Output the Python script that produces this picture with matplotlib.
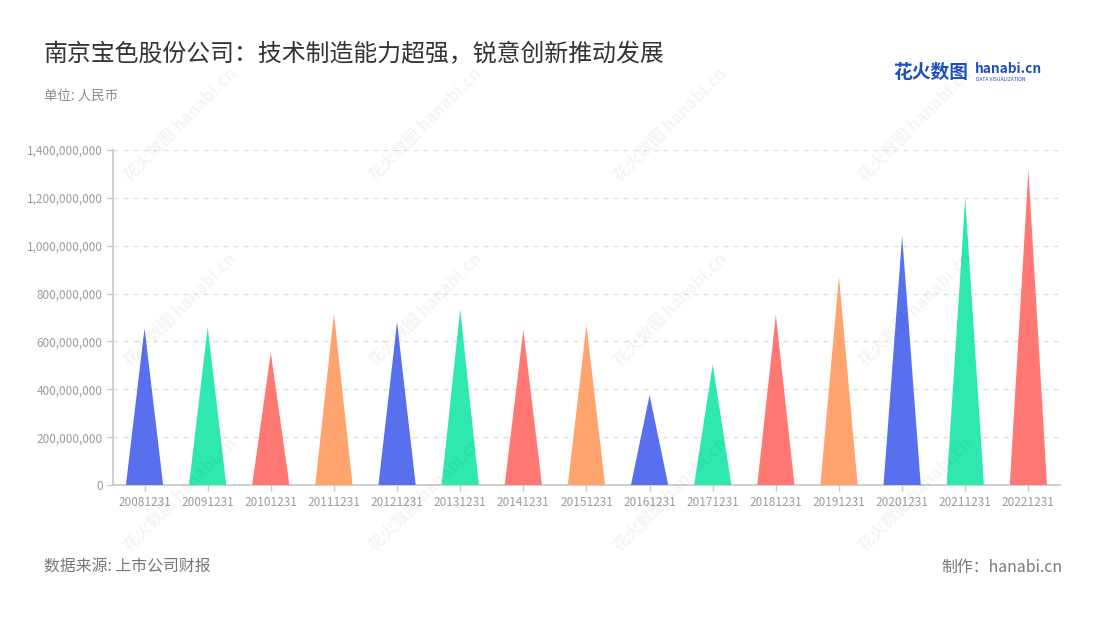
import matplotlib.pyplot as plt
from matplotlib.ticker import FuncFormatter

plt.rcParams['font.family'] = ['Noto Sans CJK SC', 'DejaVu Sans']

# 数据（单位：人民币）
periods = ['20081231', '20091231', '20101231', '20111231', '20121231',
           '20131231', '20141231', '20151231', '20161231', '20171231',
           '20181231', '20191231', '20201231', '20211231', '20221231']
values = [655e6, 659e6, 553e6, 717e6, 681e6,
          735e6, 648e6, 668e6, 376e6, 504e6,
          711e6, 870e6, 1041e6, 1198e6, 1316e6]
palette = ['#5870EE', '#2EE8B0', '#FF7873', '#FFA36F']

fig = plt.figure(figsize=(11, 6.2), dpi=100)
ax = fig.add_axes([0.1027, 0.2177, 0.8609, 0.5403])

half = 0.295
for i, v in enumerate(values):
    ax.fill([i - half, i, i + half], [0, v, 0], color=palette[i % 4], lw=0, zorder=3)

ax.set_xlim(-0.5, len(periods) - 0.5)
ax.set_ylim(0, 1.4e9)
ax.set_yticks([k * 2e8 for k in range(8)])
ax.yaxis.set_major_formatter(FuncFormatter(lambda y, _: f'{int(y):,}'))
ax.set_xticks(range(len(periods)))
ax.set_xticklabels(periods)
ax.tick_params(axis='both', colors='#c8c8c8', labelcolor='#9a9aa2', labelsize=8.5, length=4, width=1)
ax.tick_params(axis='x', pad=4)

ax.grid(axis='y', color='#dedede', linestyle=(0, (4, 4)), lw=0.9, zorder=0)
for s in ['top', 'right']:
    ax.spines[s].set_visible(False)
for s in ['left', 'bottom']:
    ax.spines[s].set_color('#c8c8c8')
    ax.spines[s].set_linewidth(1.2)

# 标题与说明
fig.text(44 / 1100, 1 - 55 / 620, '南京宝色股份公司：技术制造能力超强，锐意创新推动发展',
         fontsize=17.2, color='#333333', va='center', ha='left')
fig.text(44 / 1100, 1 - 96 / 620, '单位: 人民币', fontsize=9.7, color='#8a8a8a', va='center')
fig.text(44 / 1100, 1 - 567 / 620, '数据来源: 上市公司财报', fontsize=11.4, color='#777777', va='center')
fig.text(1062 / 1100, 1 - 567 / 620, '制作：hanabi.cn', fontsize=11.4, color='#777777', va='center', ha='right')

# 标志
fig.text(893 / 1100, 1 - 72 / 620, '花火数图', fontsize=13.5, color='#1d4fc0', fontweight='bold', va='center')
fig.text(975 / 1100, 1 - 69 / 620, 'hanabi.cn', fontsize=9.8, color='#1d4fc0', fontweight='semibold', va='center')
fig.text(976 / 1100, 1 - 79.5 / 620, 'DATA VISUALIZATION', fontsize=3.6, color='#1d4fc0', va='center')

# 水印
for cx in [180, 425, 670, 915]:
    for cy in [125, 310, 495]:
        fig.text(cx / 1100, 1 - cy / 620, '花火数图 hanabi.cn', fontsize=12, color='#000000',
                 alpha=0.045, rotation=45, ha='center', va='center', fontweight='bold', zorder=10)

fig.savefig('out.png', dpi=100)
